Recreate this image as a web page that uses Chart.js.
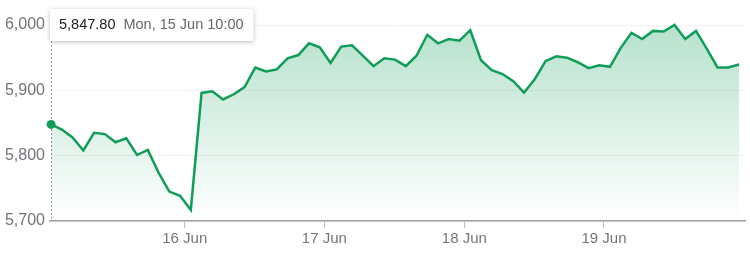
<!DOCTYPE html>
<html>
<head>
<meta charset="utf-8">
<script src="https://cdn.jsdelivr.net/npm/chart.js@4.4.0/dist/chart.umd.min.js"></script>
<style>
  html, body { margin: 0; padding: 0; background: #fff; }
  #wrap { width: 750px; height: 256px; }
</style>
</head>
<body>
<div id="wrap"><canvas id="priceChart" width="750" height="256"></canvas></div>
<script>
// price every step of the session (first point: Mon, 15 Jun 10:00)
const prices = [
    5847.8, 5840, 5828, 5808, 5835, 5833, 5820.5, 5826.7, 5801, 5808.7, 5774, 5745, 5738.5, 5717,
    5896, 5898.5, 5886, 5894, 5905, 5935, 5929, 5932, 5949, 5954, 5972, 5966, 5942,
    5967, 5969, 5953, 5937, 5949, 5947, 5937, 5953, 5985, 5972, 5978.5, 5976, 5992,
    5946, 5931, 5925, 5914, 5896.5, 5917, 5944.6, 5952, 5950, 5943, 5934, 5938.5, 5936,
    5965, 5988, 5978.5, 5991, 5990, 6000, 5978.5, 5991, 5964, 5935, 5935, 5939.5
];
const dayTickPositions = [12.44, 25.42, 38.45, 51.44];
const dayLabels = ['16 Jun', '17 Jun', '18 Jun', '19 Jun'];
const yTicks = [5700, 5800, 5900, 6000];
const tooltipValue = '5,847.80';
const tooltipTime = 'Mon, 15 Jun 10:00';

const green = '#0f9d58';

document.addEventListener('DOMContentLoaded', function() {
    const ctx = document.getElementById('priceChart').getContext('2d');

    // dotted hover line + tooltip box on the first point
    const hoverPlugin = {
        id: 'hoverTip',
        beforeDatasetsDraw(chart) {
            const c = chart.ctx;
            const x = chart.scales.x.getPixelForValue(0);
            c.save();
            c.strokeStyle = '#9e9e9e';
            c.lineWidth = 1;
            c.setLineDash([2, 2]);
            c.beginPath();
            c.moveTo(Math.round(x) + 0.5, 41);
            c.lineTo(Math.round(x) + 0.5, chart.chartArea.bottom);
            c.stroke();
            c.restore();
        },
        afterDraw(chart) {
            const c = chart.ctx;
            const x = chart.scales.x.getPixelForValue(0);
            const y = chart.scales.y.getPixelForValue(prices[0]);
            c.save();
            c.fillStyle = green;
            c.beginPath();
            c.arc(x, y, 4.5, 0, Math.PI * 2);
            c.fill();

            c.font = '14.5px "Liberation Sans", Arial, sans-serif';
            const w1 = c.measureText(tooltipValue).width;
            const w2 = c.measureText(tooltipTime).width;
            const bx = 50, by = 9, bh = 32;
            const bw = 9 + w1 + 8 + w2 + 10;
            c.shadowColor = 'rgba(0,0,0,0.28)';
            c.shadowBlur = 4;
            c.shadowOffsetY = 1;
            c.fillStyle = '#fff';
            c.beginPath();
            c.roundRect(bx, by, bw, bh, 2);
            c.fill();
            c.shadowColor = 'transparent';
            c.textBaseline = 'middle';
            c.fillStyle = '#202124';
            c.fillText(tooltipValue, bx + 9, by + bh / 2);
            c.fillStyle = '#666';
            c.fillText(tooltipTime, bx + 9 + w1 + 8, by + bh / 2);
            c.restore();
        }
    };

    new Chart(ctx, {
        type: 'line',
        data: {
            datasets: [{
                data: prices.map((p, i) => ({ x: i, y: p })),
                borderColor: green,
                borderWidth: 2.5,
                pointRadius: 0,
                tension: 0,
                fill: 'start',
                clip: false,
                backgroundColor: function(context) {
                    const area = context.chart.chartArea;
                    if (!area) return 'rgba(15,157,88,0.15)';
                    const g = context.chart.ctx.createLinearGradient(0, area.top, 0, area.bottom);
                    g.addColorStop(0, 'rgba(15,157,88,0.30)');
                    g.addColorStop(1, 'rgba(15,157,88,0)');
                    return g;
                }
            }]
        },
        options: {
            responsive: false,
            animation: false,
            layout: { padding: { top: 25, right: 5, left: 0, bottom: 0 } },
            plugins: { legend: { display: false }, tooltip: { enabled: false } },
            scales: {
                x: {
                    type: 'linear',
                    min: -0.1,
                    max: 64.56,
                    afterFit: scale => { scale.height = 35; },
                    afterBuildTicks: scale => {
                        scale.ticks = dayTickPositions.map(v => ({ value: v }));
                    },
                    grid: { drawOnChartArea: false, drawTicks: true, tickLength: 7, color: '#bdbdbd' },
                    border: { display: true, color: '#a0a0a0', width: 1.5 },
                    ticks: {
                        padding: 2,
                        color: '#70757a',
                        font: { family: '"Liberation Sans", Arial, sans-serif', size: 15 },
                        maxRotation: 0,
                        autoSkip: false,
                        callback: (value, index) => dayLabels[index]
                    }
                },
                y: {
                    min: 5700,
                    max: 6000,
                    afterFit: scale => { scale.width = 50; },
                    afterBuildTicks: scale => {
                        scale.ticks = yTicks.map(v => ({ value: v }));
                    },
                    grid: { color: '#f1f1f1', drawTicks: false },
                    border: { display: false },
                    ticks: {
                        padding: 5,
                        color: '#70757a',
                        font: { family: '"Liberation Sans", Arial, sans-serif', size: 16 },
                        callback: value => value.toLocaleString('en-US')
                    }
                }
            }
        },
        plugins: [hoverPlugin]
    });
});
</script>
</body>
</html>
